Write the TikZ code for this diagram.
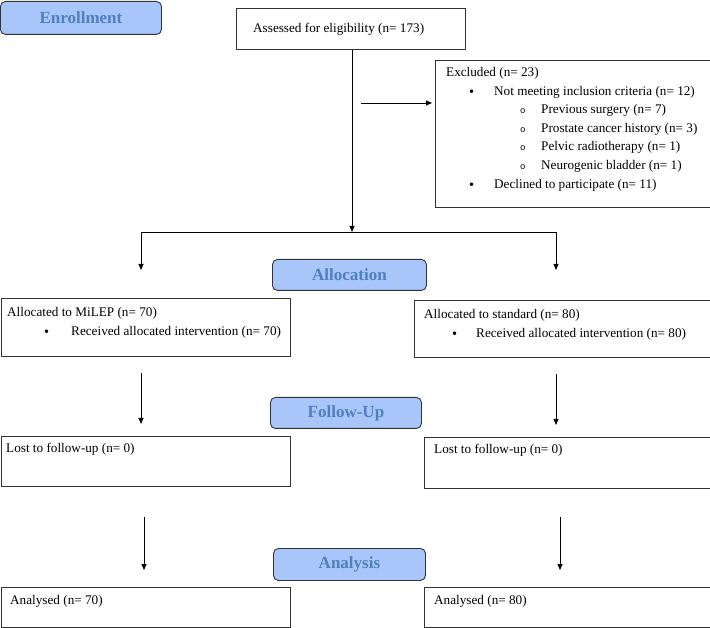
\documentclass[tikz,border=0pt]{standalone}
\usepackage{fontspec}
\setmainfont{Liberation Serif}
\setmonofont{Liberation Mono}
\usetikzlibrary{arrows.meta}
\definecolor{hdrfill}{HTML}{A8C6FA}
\definecolor{hdrtext}{HTML}{4F80BD}
\definecolor{edge}{HTML}{333333}
\tikzset{
  hdr/.style={draw=edge, line width=0.9pt, rounded corners=5pt, fill=hdrfill, text=hdrtext,
    font=\fontsize{17}{20}\selectfont\bfseries, inner sep=0pt, anchor=north west},
  boxx/.style={draw=edge, line width=0.9pt, inner sep=0pt, anchor=north west},
  txt/.style={font=\fontsize{13.2}{18.6}\selectfont, inner sep=0pt, anchor=base west, align=left},
  conn/.style={line width=0.8pt, black},
  arr/.style={conn, -{Triangle[length=6pt,width=5pt]}}
}
\begin{document}
\begin{tikzpicture}[x=1pt,y=-1pt]
\useasboundingbox (0,0) rectangle (710,628);
% headers
\node[hdr, minimum width=161pt, minimum height=33pt] (enr) at (0,1) {Enrollment};
\node[hdr, minimum width=154pt, minimum height=31pt] (alloc) at (272,259) {Allocation};
\node[hdr, minimum width=151pt, minimum height=31pt] (fup) at (270,397) {Follow-Up};
\node[hdr, minimum width=152pt, minimum height=32pt] (anal) at (273,548) {Analysis};
% boxes
\node[boxx, minimum width=229pt, minimum height=41pt] (assess) at (236,8) {};
\node[txt] (assesst) at (253,32.5) {Assessed for eligibility (n= 173)};
\node[boxx, minimum width=274.5pt, minimum height=147pt] (excl) at (435,60) {};
% base anchor = baseline of the last line
\node[txt] (exclt) at (446,188.1) {Excluded (n= 23)\\
\hspace*{23pt}\makebox[25pt][l]{\Large\raisebox{-1pt}{•}}Not meeting inclusion criteria (n= 12)\\
\hspace*{74pt}\makebox[21pt][l]{\ttfamily\small o}Previous surgery (n= 7)\\
\hspace*{74pt}\makebox[21pt][l]{\ttfamily\small o}Prostate cancer history (n= 3)\\
\hspace*{74pt}\makebox[21pt][l]{\ttfamily\small o}Pelvic radiotherapy (n= 1)\\
\hspace*{74pt}\makebox[21pt][l]{\ttfamily\small o}Neurogenic bladder (n= 1)\\
\hspace*{23pt}\makebox[25pt][l]{\Large\raisebox{-1pt}{•}}Declined to participate (n= 11)};
\node[boxx, minimum width=289pt, minimum height=58pt] (alL) at (0.5,298) {};
\node[txt] (alLt) at (7,335.1) {Allocated to MiLEP (n= 70)\\
\hspace*{37pt}\makebox[27pt][l]{\Large\raisebox{-1pt}{•}}Received allocated intervention (n= 70)};
\node[boxx, minimum width=295.5pt, minimum height=57pt] (alR) at (414,300) {};
\node[txt] (alRt) at (424,337.1) {Allocated to standard (n= 80)\\
\hspace*{28pt}\makebox[24pt][l]{\Large\raisebox{-1pt}{•}}Received allocated intervention (n= 80)};
\node[boxx, minimum width=289pt, minimum height=50pt] (fuL) at (0.5,436) {};
\node[txt] (fuLt) at (6,452.5) {Lost to follow-up (n= 0)};
\node[boxx, minimum width=285.5pt, minimum height=51pt] (fuR) at (424,437) {};
\node[txt] (fuRt) at (434,453.5) {Lost to follow-up (n= 0)};
\node[boxx, minimum width=289pt, minimum height=40pt] (anL) at (0.5,587) {};
\node[txt] (anLt) at (10,604.5) {Analysed (n= 70)};
\node[boxx, minimum width=285.5pt, minimum height=40pt] (anR) at (424,587) {};
\node[txt] (anRt) at (434,604.5) {Analysed (n= 80)};
% connector coordinates
\coordinate (split) at (352,232);
\coordinate (sl) at (141,232);
\coordinate (sr) at (556,232);
\coordinate (slE) at (141,270);
\coordinate (srE) at (556,270);
\coordinate (exS) at (361,103);
\coordinate (exE) at (432,103);
\coordinate (f1s) at (141,373);
\coordinate (f1e) at (141,424);
\coordinate (f2s) at (556,374);
\coordinate (f2e) at (556,425);
\coordinate (a1s) at (144,517);
\coordinate (a1e) at (144,570);
\coordinate (a2s) at (560,517);
\coordinate (a2e) at (560,570);
% connectors
\draw[arr] (assess.south -| split) -- (split);
\draw[conn] (sl) -- (sr);
\draw[arr] (sl) -- (slE);
\draw[arr] (sr) -- (srE);
\draw[arr] (exS) -- (exE);
\draw[arr] (f1s) -- (f1e);
\draw[arr] (f2s) -- (f2e);
\draw[arr] (a1s) -- (a1e);
\draw[arr] (a2s) -- (a2e);
\end{tikzpicture}
\end{document}
